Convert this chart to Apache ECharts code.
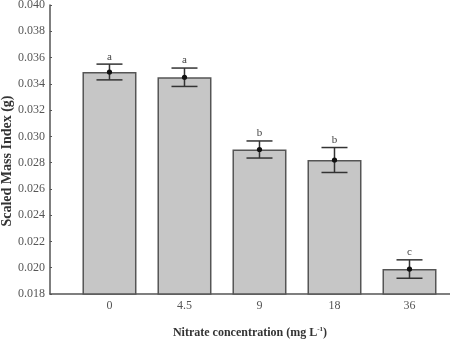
<!DOCTYPE html>
<html>
<head>
<meta charset="utf-8">
<script src="https://cdn.jsdelivr.net/npm/echarts@6/dist/echarts.min.js"></script>
<style>
  html, body { margin: 0; padding: 0; background: #fff; }
  #chart { width: 450px; height: 339px; }
</style>
</head>
<body>
<div id="chart"></div>
<script>
// Nitrate treatments (mg L-1) and the mean scaled mass index per treatment
const categories = ['0', '4.5', '9', '18', '36'];
const meanSMI = [0.0349, 0.0345, 0.0290, 0.0282, 0.0199];
const errSMI = [0.0006, 0.0007, 0.00065, 0.00095, 0.0007];
const groupLetters = ['a', 'a', 'b', 'b', 'c'];
const yTicks = { min: 0.018, max: 0.040, step: 0.002 };
const yTitle = 'Scaled Mass Index (g)';

const serif = '"Liberation Serif", "Times New Roman", serif';
const positions = categories.map((_, i) => i);

const chart = echarts.init(document.getElementById('chart'));

chart.setOption({
  animation: false,
  backgroundColor: '#fff',
  grid: { left: 50, right: 0, top: 5, bottom: 45, containLabel: false, outerBoundsMode: 'none' },
  // rotated y-axis title, set a little below the plot's mid-height
  graphic: [{
    type: 'text',
    x: 7, y: 161,
    rotation: Math.PI / 2,
    style: {
      text: yTitle, align: 'center', verticalAlign: 'middle',
      font: 'bold 14px ' + serif, fill: '#333'
    }
  }],
  xAxis: {
    type: 'value',
    min: -0.793,
    max: 4.54,
    name: 'Nitrate concentration (mg L{sup|-1})',
    nameLocation: 'middle',
    nameGap: 32,
    nameTextStyle: {
      fontFamily: serif, fontSize: 12, fontWeight: 'bold', color: '#333',
      rich: {
        sup: { fontFamily: serif, fontSize: 7, fontWeight: 'bold', color: '#333', padding: [0, 0, 7, 0] }
      }
    },
    axisLine: { onZero: false, lineStyle: { color: '#555', width: 1.5 } },
    axisTick: { inside: true, length: 2, customValues: positions, lineStyle: { color: '#555' } },
    axisLabel: {
      customValues: positions,
      formatter: v => categories[Math.round(v)],
      fontFamily: serif, fontSize: 12, color: '#555', margin: 6
    },
    splitLine: { show: false }
  },
  yAxis: {
    type: 'value',
    min: yTicks.min,
    max: yTicks.max,
    interval: yTicks.step,
    axisLine: { show: true, onZero: false, lineStyle: { color: '#555', width: 1.5 } },
    axisTick: { show: true, inside: true, length: 2, lineStyle: { color: '#555' } },
    axisLabel: {
      formatter: v => v.toFixed(3),
      fontFamily: serif, fontSize: 12, color: '#555', margin: 5
    },
    splitLine: { show: false }
  },
  series: [
    {
      type: 'bar',
      barWidth: 54,
      data: meanSMI.map((v, i) => [positions[i], v]),
      itemStyle: { color: '#c6c6c6', borderColor: '#555', borderWidth: 1.5 },
      z: 2
    },
    {
      type: 'custom',
      z: 5,
      data: meanSMI.map((v, i) => [positions[i], v, errSMI[i], i]),
      renderItem: (params, api) => {
        const x = api.value(0), m = api.value(1), e = api.value(2);
        const idx = api.value(3);
        const top = api.coord([x, m + e]);
        const bot = api.coord([x, m - e]);
        const mid = api.coord([x, m]);
        const half = 13;
        const stroke = { stroke: '#333', lineWidth: 1.5 };
        return {
          type: 'group',
          children: [
            { type: 'line', shape: { x1: top[0], y1: top[1], x2: bot[0], y2: bot[1] }, style: stroke },
            { type: 'line', shape: { x1: top[0] - half, y1: top[1], x2: top[0] + half, y2: top[1] }, style: stroke },
            { type: 'line', shape: { x1: bot[0] - half, y1: bot[1], x2: bot[0] + half, y2: bot[1] }, style: stroke },
            { type: 'circle', shape: { cx: mid[0], cy: mid[1], r: 2.6 }, style: { fill: '#111' } },
            {
              type: 'text',
              style: {
                text: groupLetters[idx], x: top[0], y: top[1] - 2,
                align: 'center', verticalAlign: 'bottom',
                font: '11px ' + serif, fill: '#444'
              }
            }
          ]
        };
      }
    }
  ]
});
</script>
</body>
</html>
